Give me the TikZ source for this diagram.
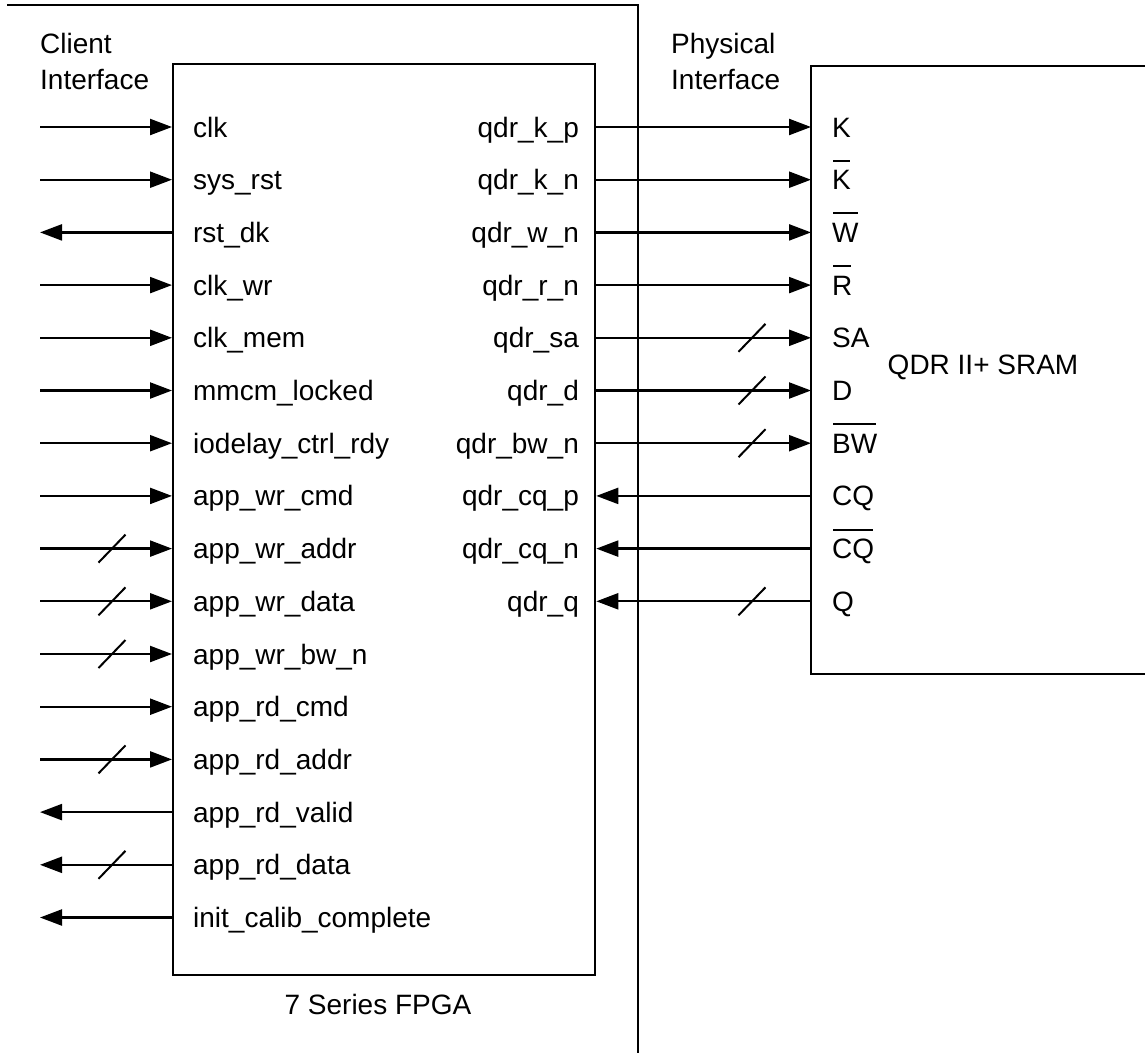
\documentclass[tikz,border=0pt]{standalone}
\usepackage{fontspec}
\setmainfont{Liberation Sans}
\usetikzlibrary{
    arrows.meta,
    positioning
}

\newcommand{\nbar}[1]{\setbox0\hbox{#1}\rlap{\hspace{1pt}\rule[28pt]{\dimexpr\wd0-2pt\relax}{2pt}}\box0}

\begin{document}
\begin{tikzpicture}[x=1pt,y=-1pt,line width=2.3pt,
    font=\fontsize{28}{36}\selectfont,
    pin/.style={inner sep=0pt,text height=20pt,text depth=0pt},
    sig/.style={-{Triangle[length=22pt,width=16pt]}},
    bus/.style={line width=2pt}]

\useasboundingbox (0,0) rectangle (1145,1053);

% FPGA
\draw (7,5) -| (638,1053);
\node[draw,inner sep=0pt,minimum width=422pt,minimum height=911pt,
      anchor=north west] (fpga) at (172,63) {};
\node (fpganame) at (378,1004) {7 Series FPGA};

% SRAM
\node[inner sep=0pt,minimum width=334pt,minimum height=606pt,
      anchor=north west] (sram) at (811,66) {};
\draw (sram.north east) -- (sram.north west) --
      (sram.south west) -- (sram.south east);
\node (sramname) at (983,367) {QDR II+ SRAM};

% Interfaces
\node[inner sep=0pt,align=left,anchor=base west] (client) at (39,89)
    {Client\\Interface};
\node[inner sep=0pt,align=left,anchor=base west] (phys) at (670,89)
    {Physical\\Interface};

% Client side
\foreach \name/\dir/\bw [count=\i from 0] in {
    clk/1/0, sys\_rst/1/0, rst\_dk/0/0, clk\_wr/1/0,
    clk\_mem/1/0, mmcm\_locked/1/0, iodelay\_ctrl\_rdy/1/0,
    app\_wr\_cmd/1/0, app\_wr\_addr/1/1, app\_wr\_data/1/1,
    app\_wr\_bw\_n/1/1, app\_rd\_cmd/1/0, app\_rd\_addr/1/1,
    app\_rd\_valid/0/0, app\_rd\_data/0/1, init\_calib\_complete/0/0}{
    \pgfmathsetmacro{\y}{127+52.7*\i}
    \node[pin,anchor=west] (l\i) at (192,\y) {\name};
    \coordinate (lp\i) at (fpga.west |- l\i);
    \coordinate (le\i) at (40,\y);
    \ifnum\dir=1
        \draw[sig] (le\i) -- (lp\i);
    \else
        \draw[sig] (lp\i) -- (le\i);
    \fi
    \ifnum\bw=1
        \draw[bus] (98.5,\y+14) -- (125.5,\y-14);
    \fi
}

% Physical side
\foreach \name/\pin/\dir/\bw [count=\i from 0] in {
    qdr\_k\_p/K/1/0, qdr\_k\_n/\nbar{K}/1/0, qdr\_w\_n/\nbar{W}/1/0,
    qdr\_r\_n/\nbar{R}/1/0, qdr\_sa/SA/1/1, qdr\_d/D/1/1,
    qdr\_bw\_n/\nbar{BW}/1/1, qdr\_cq\_p/CQ/0/0,
    qdr\_cq\_n/\nbar{CQ}/0/0, qdr\_q/Q/0/1}{
    \pgfmathsetmacro{\y}{127+52.7*\i}
    \node[pin,anchor=east] (r\i) at (580,\y) {\name};
    \node[pin,anchor=west] (s\i) at (831,\y) {\pin};
    \coordinate (rp\i) at (fpga.east |- r\i);
    \coordinate (sp\i) at (sram.west |- s\i);
    \ifnum\dir=1
        \draw[sig] (rp\i) -- (sp\i);
    \else
        \draw[sig] (sp\i) -- (rp\i);
    \fi
    \ifnum\bw=1
        \draw[bus] (738.5,\y+14) -- (765.5,\y-14);
    \fi
}

\end{tikzpicture}
\end{document}
